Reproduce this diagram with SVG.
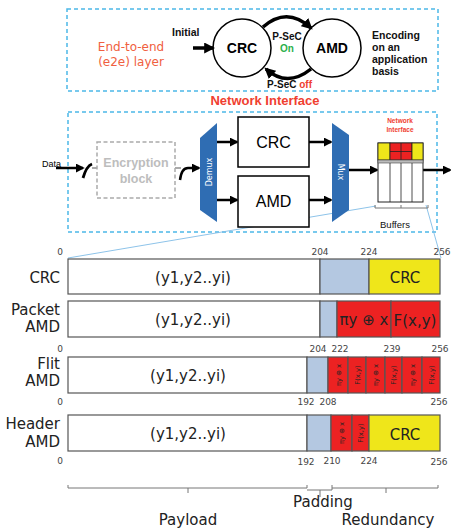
<svg xmlns="http://www.w3.org/2000/svg" width="451" height="529" viewBox="0 0 451 529">
<defs>
<marker id="ah" viewBox="0 0 10 10" refX="8" refY="5" markerWidth="9" markerHeight="9" markerUnits="userSpaceOnUse" orient="auto"><path d="M0,0 L10,5 L0,10 z" fill="#000"/></marker>
<marker id="ah2" viewBox="0 0 10 10" refX="8" refY="5" markerWidth="11" markerHeight="11" markerUnits="userSpaceOnUse" orient="auto"><path d="M0,0 L10,5 L0,10 z" fill="#000"/></marker>
</defs>
<style>
.dash{fill:none;stroke:#4cb8e8;stroke-width:1.5;stroke-dasharray:4 3}
.arr{fill:none;stroke:#000;stroke-width:2.5;marker-end:url(#ah)}
.carr{fill:none;stroke:#000;stroke-width:3.5;marker-end:url(#ah2)}
.bar{stroke:#555;stroke-width:1.2}
.w{fill:#fff}.p{fill:#b4c8e1}.y{fill:#efe61a}.r{fill:#ec2222}
.lab{font-family:"DejaVu Sans",Verdana,sans-serif;font-size:15px;fill:#222}
.num{font-family:"DejaVu Sans",Verdana,sans-serif;font-size:9px;fill:#444;text-anchor:middle}
.mid{text-anchor:middle}
.sm{font-family:"DejaVu Sans",Verdana,sans-serif;font-size:6.8px;fill:#222;text-anchor:middle}
.b{font-family:"Liberation Sans",Arial,sans-serif;font-weight:bold}
.brace{fill:none;stroke:#777;stroke-width:1}
</style>
<rect width="451" height="529" fill="#fff"/>

<!-- top e2e layer -->
<g id="e2e-layer">
<rect class="dash" x="67" y="9" width="371" height="82"/>
<text x="131" y="51" class="mid" font-family="DejaVu Sans,sans-serif" font-size="12" fill="#f06040">End-to-end</text>
<text x="131" y="66" class="mid" font-family="DejaVu Sans,sans-serif" font-size="12" fill="#f06040">(e2e) layer</text>
<text x="172" y="36" class="b" font-size="10.5" fill="#111">Initial</text>
<text x="372" y="39" class="b" font-size="10.5" fill="#111">Encoding</text>
<text x="372" y="51" class="b" font-size="10.5" fill="#111">on an</text>
<text x="372" y="63" class="b" font-size="10.5" fill="#111">application</text>
<text x="372" y="75" class="b" font-size="10.5" fill="#111">basis</text>
</g>
<g id="state-crc">
<circle cx="242" cy="48" r="29" fill="#fff" stroke="#000" stroke-width="1.5"/>
<text x="242" y="53" class="b mid" font-size="14">CRC</text>
</g>
<g id="state-amd">
<circle cx="332" cy="48" r="29" fill="#fff" stroke="#000" stroke-width="1.5"/>
<text x="332" y="53" class="b mid" font-size="14">AMD</text>
</g>
<g id="state-connectors">
<line class="carr" x1="193" y1="48" x2="213" y2="48"/>
<path class="carr" d="M263,27 Q287,6 311,28"/>
<path class="carr" d="M311,69 Q287,88 266,69"/>
<text x="287" y="40" class="b mid" font-size="10" fill="#111">P-SeC</text>
<text x="287" y="52" class="b mid" font-size="10" fill="#2bb04a">On</text>
<text x="267" y="88" class="b" font-size="10" fill="#111">P-SeC <tspan fill="#f04030">off</tspan></text>
</g>

<!-- network interface -->
<text x="265" y="105" class="b mid" font-size="13" fill="#f04030">Network Interface</text>
<g id="ni-box"><rect class="dash" x="68" y="112" width="369" height="120"/></g>

<g id="connectors">
<line x1="68" y1="258" x2="376" y2="206" stroke="#80bce6" stroke-width="0.9"/>
<line x1="426" y1="205" x2="441" y2="258" stroke="#80bce6" stroke-width="0.9"/>
<line class="arr" x1="56" y1="168" x2="83" y2="168"/>
<path d="M83,178 C85,171 87,166 92,164" fill="none" stroke="#000" stroke-width="2.8"/>
<line x1="92" y1="168" x2="97" y2="168" stroke="#aaa" stroke-width="2"/>
<line x1="175" y1="168" x2="181" y2="168" stroke="#aaa" stroke-width="2"/>
<path class="arr" d="M180,180 C181,172 183,168 188,168 L199,168"/>
<line class="arr" x1="217" y1="142" x2="237" y2="142"/>
<line class="arr" x1="217" y1="200" x2="237" y2="200"/>
<line class="arr" x1="309" y1="142" x2="331" y2="142"/>
<line class="arr" x1="309" y1="200" x2="331" y2="200"/>
<line class="arr" x1="349" y1="170" x2="377" y2="170"/>
<line class="arr" x1="423" y1="170" x2="450" y2="170"/>
</g>

<g id="data"><text x="42" y="167" font-family="Liberation Sans,Arial,sans-serif" font-size="9" fill="#000">Data</text></g>

<g id="encryption">
<rect x="97" y="142" width="78" height="56" fill="none" stroke="#aaa" stroke-width="1.5" stroke-dasharray="4 2.5"/>
<text x="136" y="167" class="b mid" font-size="12.5" fill="#bdbdbd">Encryption</text>
<text x="136" y="183" class="b mid" font-size="12.5" fill="#bdbdbd">block</text>
</g>

<g id="demux">
<polygon points="200,138 217,123 217,222 200,210" fill="#2f6db3"/>
<text transform="rotate(-90 208.5 172)" x="208.5" y="175" text-anchor="middle" font-family="DejaVu Sans,sans-serif" font-size="8" fill="#fff">Demux</text>
</g>

<g id="crc-box">
<rect x="238" y="117" width="71" height="50" fill="#fff" stroke="#000" stroke-width="1.5"/>
<text x="273.5" y="148" class="mid" font-family="Liberation Sans,Arial,sans-serif" font-size="16">CRC</text>
</g>
<g id="amd-box">
<rect x="238" y="176" width="71" height="51" fill="#fff" stroke="#000" stroke-width="1.5"/>
<text x="273.5" y="207" class="mid" font-family="Liberation Sans,Arial,sans-serif" font-size="16">AMD</text>
</g>

<g id="mux">
<polygon points="332,123 349,135 349,210 332,222" fill="#2f6db3"/>
<text transform="rotate(90 340.5 172)" x="340.5" y="175" text-anchor="middle" font-family="DejaVu Sans,sans-serif" font-size="8" fill="#fff">Mux</text>
</g>

<g id="buffers">
<text x="400" y="123" class="b mid" font-size="6.5" fill="#f04030">Network</text>
<text x="400" y="132" class="b mid" font-size="6.5" fill="#f04030">Interface</text>
<rect x="378" y="143" width="45" height="59" fill="#fff" stroke="#222" stroke-width="1"/>
<rect x="378" y="143" width="12" height="17" fill="#efe61a" stroke="#222" stroke-width="0.8"/>
<rect x="390" y="143" width="22" height="17" fill="#ec2222" stroke="#222" stroke-width="0.8"/>
<rect x="412" y="143" width="11" height="17" fill="#efe61a" stroke="#222" stroke-width="0.8"/>
<line x1="401" y1="143" x2="401" y2="160" stroke="#222" stroke-width="0.8"/>
<line x1="390" y1="151.5" x2="412" y2="151.5" stroke="#222" stroke-width="0.8"/>
<rect x="378" y="160" width="45" height="3" fill="#bbb" stroke="#444" stroke-width="0.6"/>
<line x1="390" y1="163" x2="390" y2="202" stroke="#222" stroke-width="0.8"/>
<line x1="401" y1="163" x2="401" y2="202" stroke="#222" stroke-width="0.8"/>
<line x1="412" y1="163" x2="412" y2="202" stroke="#222" stroke-width="0.8"/>
<path class="brace" d="M375,205 L375,208 L428,208 L428,205 M401,208 L401,205"/>
<text x="395" y="228" class="mid" font-family="Liberation Sans,Arial,sans-serif" font-size="9.5" fill="#111">Buffers</text>
</g>

<!-- packet formats -->
<g id="row-crc">
<text x="60" y="255" class="num">0</text>
<text x="320" y="255" class="num">204</text>
<text x="369" y="255" class="num">224</text>
<text x="442" y="255" class="num">256</text>
<rect class="bar w" x="68" y="259" width="252" height="35"/>
<rect class="bar p" x="320" y="259" width="49" height="35"/>
<rect class="bar y" x="369" y="259" width="71" height="35"/>
<text x="60" y="283" class="lab" text-anchor="end">CRC</text>
<text x="193" y="283" class="lab mid">(y1,y2..yi)</text>
<text x="405" y="283" class="lab mid">CRC</text>
</g>

<g id="row-packet-amd">
<rect class="bar w" x="68" y="301" width="252" height="36"/>
<rect class="bar p" x="320" y="301" width="17" height="36"/>
<rect class="bar r" x="337" y="301" width="54" height="36"/>
<rect class="bar r" x="391" y="301" width="49" height="36"/>
<text x="60" y="315" class="lab" text-anchor="end">Packet</text>
<text x="60" y="332" class="lab" text-anchor="end">AMD</text>
<text x="193" y="325" class="lab mid">(y1,y2..yi)</text>
<text x="364" y="325" class="lab mid" font-size="14">πy ⊕ x</text>
<text x="415" y="326" class="lab mid" font-size="16">F(x,y)</text>
</g>

<g id="row-flit-amd">
<text x="60" y="352" class="num">0</text>
<text x="318" y="352" class="num">204</text>
<text x="340" y="352" class="num">222</text>
<text x="392" y="352" class="num">239</text>
<text x="440" y="352" class="num">256</text>
<rect class="bar w" x="68" y="357" width="239" height="36"/>
<rect class="bar p" x="307" y="357" width="21" height="36"/>
<rect class="bar r" x="328" y="357" width="20" height="36"/>
<rect class="bar r" x="348" y="357" width="18" height="36"/>
<rect class="bar r" x="366" y="357" width="19" height="36"/>
<rect class="bar r" x="385" y="357" width="17" height="36"/>
<rect class="bar r" x="402" y="357" width="20" height="36"/>
<rect class="bar r" x="422" y="357" width="18" height="36"/>
<text x="60" y="369" class="lab" text-anchor="end">Flit</text>
<text x="60" y="386" class="lab" text-anchor="end">AMD</text>
<text x="188" y="381" class="lab mid">(y1,y2..yi)</text>
<text transform="rotate(-90 338 375)" x="338" y="377.5" class="sm">πy ⊕ x</text>
<text transform="rotate(-90 357 375)" x="357" y="377.5" class="sm">F(x,y)</text>
<text transform="rotate(-90 375.5 375)" x="375.5" y="377.5" class="sm">πy ⊕ x</text>
<text transform="rotate(-90 393.5 375)" x="393.5" y="377.5" class="sm">F(x,y)</text>
<text transform="rotate(-90 412 375)" x="412" y="377.5" class="sm">πy ⊕ x</text>
<text transform="rotate(-90 431 375)" x="431" y="377.5" class="sm">F(x,y)</text>
</g>

<g id="row-header-amd">
<text x="60" y="405" class="num">0</text>
<text x="306" y="405" class="num">192</text>
<text x="328" y="405" class="num">208</text>
<text x="439" y="405" class="num">256</text>
<rect class="bar w" x="68" y="415" width="239" height="36"/>
<rect class="bar p" x="307" y="415" width="24" height="36"/>
<rect class="bar r" x="331" y="415" width="21" height="36"/>
<rect class="bar r" x="352" y="415" width="17" height="36"/>
<rect class="bar y" x="369" y="415" width="71" height="36"/>
<text x="60" y="429" class="lab" text-anchor="end">Header</text>
<text x="60" y="447" class="lab" text-anchor="end">AMD</text>
<text x="188" y="439" class="lab mid">(y1,y2..yi)</text>
<text transform="rotate(-90 341.5 433)" x="341.5" y="435.5" class="sm">πy ⊕ x</text>
<text transform="rotate(-90 360.5 433)" x="360.5" y="435.5" class="sm">F(x,y)</text>
<text x="405" y="440" class="lab mid">CRC</text>
<text x="60" y="464" class="num">0</text>
<text x="306" y="465" class="num">192</text>
<text x="332" y="464" class="num">210</text>
<text x="369" y="464" class="num">224</text>
<text x="439" y="465" class="num">256</text>
</g>

<g id="legend">
<path class="brace" d="M68,485 L68,488 L307,488 L307,485 M188,488 L188,493"/>
<path class="brace" d="M307,490 L332,490 L332,485 M320,490 L320,497"/>
<path class="brace" d="M332,488 L438,488 L438,485 M386,488 L386,493"/>
<text x="323" y="507" class="lab mid">Padding</text>
<text x="188" y="525" class="lab mid">Payload</text>
<text x="388" y="525" class="lab mid">Redundancy</text>
</g>
</svg>
